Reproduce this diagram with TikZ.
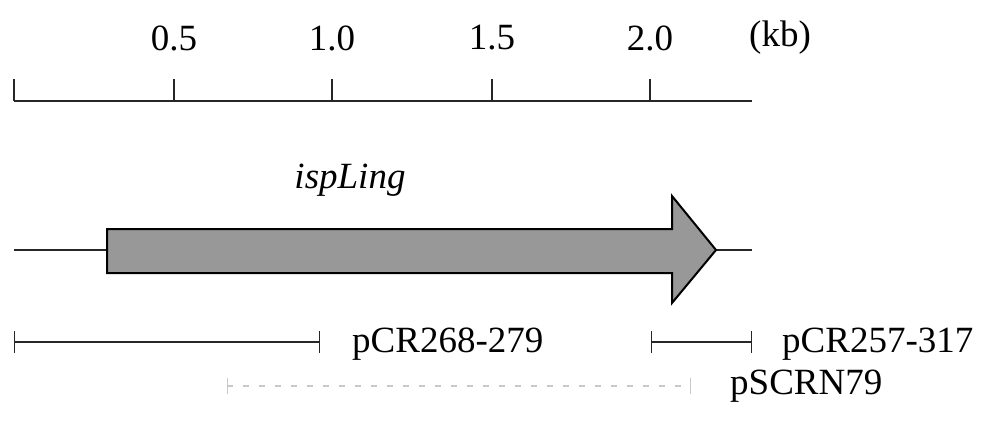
\documentclass[tikz,border=0pt]{standalone}
\usepackage{fontspec}
\setmainfont{Liberation Serif}
\usetikzlibrary{arrows.meta}
\definecolor{genefill}{RGB}{152,152,152}
\definecolor{faint}{RGB}{200,200,200}
\tikzset{
  lbl/.style={font=\fontsize{37}{40}\selectfont, inner sep=0pt},
  scaleline/.style={line width=1.4pt, black!85},
  fragbar/.style={line width=1.4pt, black!85, {Bar[width=22pt,line width=1.4pt]}-{Bar[width=22pt,line width=1.4pt]}},
  faintbar/.style={line width=1.2pt, faint, dash pattern=on 6pt off 10pt},
  genebody/.style={draw=black, line width=2pt, fill=genefill, line join=miter}
}
\begin{document}
\begin{tikzpicture}[x=1pt,y=-1pt]
\useasboundingbox (0,0) rectangle (990,439);
% scale
\coordinate (s0) at (14,101);
\coordinate (s1) at (752,101);
\draw[scaleline] (s0) -- (s1);
\foreach \x in {14,174,332,492,650} \draw[scaleline] (\x,79) -- (\x,101);
\node[lbl] (t05) at (174,38) {0.5};
\node[lbl] (t10) at (332,38) {1.0};
\node[lbl] (t15) at (492,38) {1.5};
\node[lbl] (t20) at (650,38) {2.0};
\node[lbl] (kb) at (780,38) {(kb)};
% gene
\node[lbl, font=\fontsize{37}{40}\selectfont\itshape] (gname) at (350,180) {ispLing};
\coordinate (gl) at (14,250);
\coordinate (gs) at (107,250);
\coordinate (gt) at (716,250);
\coordinate (gr) at (752,250);
\draw[scaleline] (gl) -- (gs);
\draw[scaleline] (gt) -- (gr);
\draw[genebody] (107,229) -- (672,229) -- (672,196) -- (gt) -- (672,303) -- (672,273) -- (107,273) -- cycle;
% fragments
\coordinate (a1) at (14,342);
\coordinate (a2) at (320,342);
\draw[fragbar] (a1) -- (a2);
\node[lbl, anchor=west] (pa) at (352,344) {pCR268-279};
\coordinate (b1) at (651,342);
\coordinate (b2) at (752,342);
\draw[fragbar] (b1) -- (b2);
\node[lbl, anchor=west] (pb) at (782,344) {pCR257-317};
\coordinate (c1) at (227,386);
\coordinate (c2) at (690,386);
\draw[faintbar] (c1) -- (c2);
\draw[line width=1pt, faint] (227,378) -- (227,394);
\draw[line width=1pt, faint] (690,378) -- (690,394);
\node[lbl, anchor=west] (pc) at (730,386) {pSCRN79};
\end{tikzpicture}
\end{document}
